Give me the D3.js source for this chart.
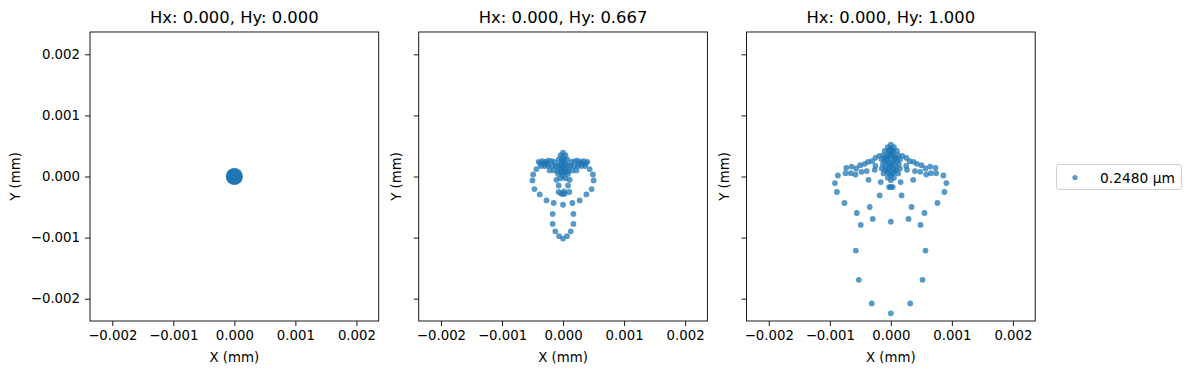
<!DOCTYPE html>
<html>
<head>
<meta charset="utf-8">
<script src="https://cdn.jsdelivr.net/npm/d3@7"></script>
<style>
  html, body { margin: 0; padding: 0; background: #fff; }
  svg { display: block; font-family: "DejaVu Sans", sans-serif; }
</style>
</head>
<body>
<svg id="chart" width="1190" height="374"></svg>
<script>
// ---------------- DATA ----------------
const panelTitles = ["Hx: 0.000, Hy: 0.000", "Hx: 0.000, Hy: 0.667", "Hx: 0.000, Hy: 1.000"];
const tickValues = [-0.002, -0.001, 0.000, 0.001, 0.002];
const legendLabel = "0.2480 µm";
const axisLimit = 0.002365;

// Spot points [x (mm), y (mm)]
const spotHy0 = [
  [0, 0], [0.00001, 0], [-0.00001, 0], [0, 0.00001], [0, -0.00001]
];

const spotHy0667 = [
  // outer loop
  [-0.000436, 0.000121], [0.000436, 0.000121],
  [-0.000489, 0.000033], [0.000489, 0.000033],
  [-0.000501, -0.000065], [0.000501, -0.000065],
  [-0.000468, -0.000206], [0.000468, -0.000206],
  [-0.000382, -0.000294], [0.000382, -0.000294],
  [-0.000272, -0.000392], [0.000272, -0.000392],
  [-0.000153, -0.000434], [0.000153, -0.000434],
  [-0.000170, -0.000613], [0.000170, -0.000613],
  [-0.000170, -0.000777], [0.000170, -0.000777],
  [-0.000126, -0.000897], [0.000126, -0.000897],
  [-0.000065, -0.000976], [0.000065, -0.000976],
  [0, -0.001016],
  // inner
  [-0.000109, -0.000054], [0.000109, -0.000054],
  [-0.000072, -0.000147], [0.000082, -0.000147],
  [-0.000072, -0.000254], [0.000016, -0.000245], [0.000103, -0.000254],
  [0, -0.000287], [-0.00003, -0.00028], [0.00003, -0.00028],
  [0, -0.000462],
  // wings
  [-0.00040, 0.00024], [-0.00034, 0.00025], [-0.00029, 0.00024], [-0.00024, 0.00026], [-0.00019, 0.00025], [-0.00014, 0.00024],
  [0.00040, 0.00024], [0.00034, 0.00025], [0.00029, 0.00024], [0.00024, 0.00026], [0.00019, 0.00025], [0.00014, 0.00024],
  [-0.00037, 0.00021], [-0.00031, 0.00021], [-0.00026, 0.00021],
  [0.00037, 0.00021], [0.00031, 0.00021], [0.00026, 0.00021],
  [-0.00036, 0.00017], [-0.00030, 0.00017], [-0.00024, 0.00017], [-0.00018, 0.00017], [-0.00012, 0.00017],
  [0.00036, 0.00017], [0.00030, 0.00017], [0.00024, 0.00017], [0.00018, 0.00017], [0.00012, 0.00017],
  [-0.00022, 0.00010], [-0.00015, 0.00010], [-0.00009, 0.00009],
  [0.00022, 0.00010], [0.00015, 0.00010], [0.00009, 0.00009],
  // central column
  [0, 0.00039], [-0.00004, 0.00035], [0.00004, 0.00035], [0, 0.00031],
  [-0.00007, 0.00028], [0.00007, 0.00028], [0, 0.00025],
  [-0.00004, 0.00021], [0.00004, 0.00021], [-0.00009, 0.00018], [0.00009, 0.00018],
  [0, 0.00015], [-0.00005, 0.00011], [0.00005, 0.00011], [0, 0.00007],
  [-0.00008, 0.00004], [0.00008, 0.00004], [0, 0.00001],
  [-0.00004, -0.00003], [0.00004, -0.00003],
  [-0.00002, 0.00027], [0.00002, 0.00027], [-0.00003, 0.00019], [0.00003, 0.00019],
  [-0.00002, 0.00013], [0.00002, 0.00013], [-0.00003, 0.00006], [0.00003, 0.00006]
];

const spotHy1 = [
  // lower structure
  [-0.000759, -0.000434], [0.000763, -0.000434],
  [-0.000183, -0.000310], [0.000176, -0.000310],
  [-0.000558, -0.000597], [0.000551, -0.000597],
  [-0.000346, -0.000499], [0.000339, -0.000499],
  [-0.000297, -0.000695], [0.000290, -0.000695],
  [0, -0.000739],
  [-0.000493, -0.000793], [0.000486, -0.000793],
  [-0.000574, -0.001212], [0.000568, -0.001212],
  [-0.000525, -0.001691], [0.000519, -0.001691],
  [-0.000313, -0.002078], [0.000318, -0.002078],
  [0, -0.002240],
  [-0.000917, -0.000108], [0.000910, -0.000108],
  [-0.000884, -0.000254], [0.000878, -0.000254],
  [-0.000166, -0.000091], [0.000160, -0.000091],
  [-0.00003, -0.000173], [0.00003, -0.000173], [0, -0.000170],
  [-0.000366, -0.000054], [0.000366, -0.000054],
  [-0.000868, 0.000016], [0.000861, 0.000016],
  // wings
  [-0.000731, 0.000142], [-0.000644, 0.000163], [-0.000568, 0.000131], [-0.000502, 0.000186],
  [-0.000427, 0.000207], [-0.000372, 0.000240], [-0.000307, 0.000251], [-0.000253, 0.000305], [-0.000188, 0.000338],
  [0.000731, 0.000142], [0.000644, 0.000163], [0.000568, 0.000131], [0.000502, 0.000186],
  [0.000427, 0.000207], [0.000372, 0.000240], [0.000307, 0.000251], [0.000253, 0.000305], [0.000188, 0.000338],
  [-0.000742, 0.000055], [-0.000656, 0.000055], [-0.000579, 0.000033], [-0.000481, 0.000077],
  [-0.000395, 0.000088], [-0.000264, 0.000109], [-0.000253, 0.000175],
  [0.000742, 0.000055], [0.000656, 0.000055], [0.000579, 0.000033], [0.000481, 0.000077],
  [0.000395, 0.000088], [0.000264, 0.000109], [0.000253, 0.000175],
  // central cluster
  [0, 0.00052], [-0.00005, 0.00048], [0.00005, 0.00048], [0, 0.00045],
  [-0.00010, 0.00042], [0.00010, 0.00042], [-0.00004, 0.00040], [0.00004, 0.00040],
  [0, 0.00036], [-0.00012, 0.00035], [0.00012, 0.00035], [-0.00007, 0.00032], [0.00007, 0.00032],
  [0, 0.00030], [-0.00015, 0.00028], [0.00015, 0.00028], [-0.00010, 0.00025], [0.00010, 0.00025],
  [-0.00004, 0.00023], [0.00004, 0.00023], [-0.00013, 0.00020], [0.00013, 0.00020], [0, 0.00018],
  [-0.00008, 0.00016], [0.00008, 0.00016], [-0.00015, 0.00013], [0.00015, 0.00013], [0, 0.00010],
  [-0.00006, 0.00008], [0.00006, 0.00008], [-0.00012, 0.00005], [0.00012, 0.00005], [0, 0.00002],
  [-0.00005, -0.00002], [0.00005, -0.00002], [0, -0.00006],
  [-0.00002, 0.00043], [0.00002, 0.00043], [-0.00003, 0.00034], [0.00003, 0.00034],
  [-0.00006, 0.00027], [0.00006, 0.00027], [-0.00002, 0.00020], [0.00002, 0.00020],
  [-0.00004, 0.00013], [0.00004, 0.00013], [-0.00009, 0.00011], [0.00009, 0.00011],
  [-0.00003, 0.00005], [0.00003, 0.00005], [-0.00010, 0.00030], [0.00010, 0.00030]
];

const panelData = [spotHy0, spotHy0667, spotHy1];

// ---------------- LAYOUT ----------------
const svg = d3.select("#chart");
const color = "#1f77b4";
const panelLeft = [90, 418.7, 746.5];
const panelW = 288.7, plotTop = 32, panelH = 289;
const markerR = [8, 2.9, 2.9];
const fmt = v => d3.format(".3f")(v);

panelData.forEach((pts, i) => {
  const x0 = panelLeft[i];
  const x = d3.scaleLinear().domain([-axisLimit, axisLimit]).range([x0, x0 + panelW]);
  const y = d3.scaleLinear().domain([-axisLimit, axisLimit]).range([plotTop + panelH, plotTop]);

  const g = svg.append("g");

  // points
  g.append("g").selectAll("circle").data(pts).join("circle")
    .attr("cx", d => x(d[0])).attr("cy", d => y(d[1]))
    .attr("r", markerR[i])
    .attr("fill", color).attr("fill-opacity", 0.75);

  // axes
  const xAxis = d3.axisBottom(x).tickValues(tickValues).tickFormat(fmt).tickSize(5).tickPadding(5).tickSizeOuter(0);
  const yAxis = d3.axisLeft(y).tickValues(tickValues).tickFormat(i === 0 ? fmt : () => "").tickSize(5).tickPadding(5).tickSizeOuter(0);

  const gx = g.append("g").attr("transform", `translate(0,${plotTop + panelH})`).call(xAxis);
  const gy = g.append("g").attr("transform", `translate(${x0},0)`).call(yAxis);
  [gx, gy].forEach(a => {
    a.select(".domain").remove();
    a.selectAll("text").attr("font-size", 13.3).attr("fill", "#000").attr("font-family", "DejaVu Sans");
    a.selectAll("line").attr("stroke", "#000").attr("stroke-width", 0.9);
  });

  // frame
  g.append("rect").attr("x", x0).attr("y", plotTop).attr("width", panelW).attr("height", panelH)
    .attr("fill", "none").attr("stroke", "#000").attr("stroke-width", 0.9);

  // title
  g.append("text").attr("x", x0 + panelW / 2).attr("y", 23.3)
    .attr("text-anchor", "middle").attr("font-size", 16.4).attr("fill", "#000")
    .text(panelTitles[i]);

  // x label
  g.append("text").attr("x", x0 + panelW / 2).attr("y", 361.5)
    .attr("text-anchor", "middle").attr("font-size", 13.3).attr("fill", "#000")
    .text("X (mm)");

  // y label
  const ly = plotTop + panelH / 2;
  const lx = i === 0 ? 20 : x0 - 17.5;
  g.append("text").attr("transform", `translate(${lx},${ly}) rotate(-90)`)
    .attr("text-anchor", "middle").attr("font-size", 13.3).attr("fill", "#000")
    .text("Y (mm)");
});

// legend
const lg = svg.append("g");
lg.append("rect").attr("x", 1056.5).attr("y", 164.5).attr("width", 125).attr("height", 25)
  .attr("rx", 2.5).attr("fill", "#fff").attr("stroke", "#d0d0d0").attr("stroke-width", 1);
lg.append("circle").attr("cx", 1075).attr("cy", 177.5).attr("r", 2.6)
  .attr("fill", color).attr("fill-opacity", 0.75);
lg.append("text").attr("x", 1100).attr("y", 182.5).attr("font-size", 13.8).attr("fill", "#000")
  .text(legendLabel);
</script>
</body>
</html>
